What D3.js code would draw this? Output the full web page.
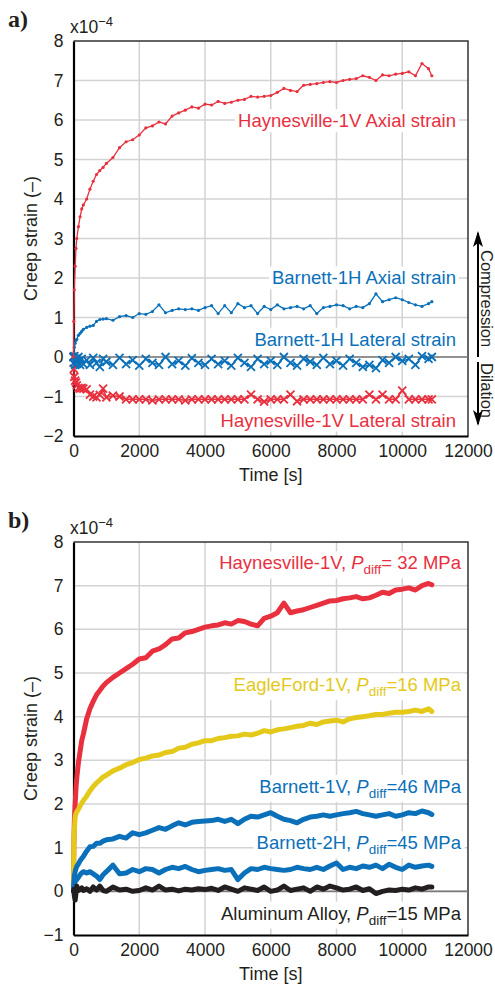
<!DOCTYPE html>
<html>
<head>
<meta charset="utf-8">
<script src="https://cdn.jsdelivr.net/npm/d3@7"></script>
<style>
  body { margin: 0; background: #fff; }
  svg text { font-family: "Liberation Sans", Arial, sans-serif; fill: #231f20; }
</style>
</head>
<body>
<div id="chart"></div>
<script>
///////////////////////////////////////////////////////////////////////////////
//////////////////// DATA /////////////////////////////////////////////////////
///////////////////////////////////////////////////////////////////////////////

// time of each sample [s], shared by every series
var timeS = [0, 10, 25, 50, 75, 100, 150, 200, 250, 300, 400, 500, 600, 700, 800, 900,
  1000, 1200, 1400, 1600, 1800, 2000, 2200, 2400, 2600, 2800,
  3000, 3200, 3400, 3600, 3800, 4000, 4200, 4400, 4600, 4800,
  5000, 5200, 5400, 5600, 5800, 6000, 6200, 6400, 6600, 6800,
  7000, 7200, 7400, 7600, 7800, 8000, 8200, 8400, 8600, 8800,
  9000, 9200, 9400, 9600, 9800, 10000, 10200, 10400, 10600, 10800, 10900];

// panel a) creep strain, x1e-4
var haynAxialA = [0, 0.9, 1.7, 2.3, 2.75, 3.0, 3.3, 3.55, 3.75, 3.85, 4.0, 4.25, 4.45, 4.62, 4.72, 4.8,
  4.9, 5.05, 5.3, 5.45, 5.5, 5.62, 5.8, 5.85, 5.95, 5.9,
  6.1, 6.18, 6.25, 6.33, 6.3, 6.4, 6.38, 6.47, 6.42, 6.45,
  6.5, 6.52, 6.6, 6.58, 6.6, 6.62, 6.7, 6.8, 6.75, 6.72,
  6.88, 6.9, 6.92, 6.95, 6.97, 6.95, 7.0, 7.03, 7.05, 7.12,
  7.08, 7.0, 7.14, 7.12, 7.16, 7.18, 7.22, 7.12, 7.43, 7.3, 7.12];
var haynLateralA = [0, -0.3, -0.5, -0.6, -0.65, -0.72, -0.78, -0.8, -0.78, -0.8, -0.82, -0.95, -1.0, -1.02, -0.96, -0.8,
  -1.02, -0.98, -1.0, -1.07, -1.07, -1.07, -1.07, -1.1, -1.07, -1.07,
  -1.07, -1.07, -1.1, -1.07, -1.07, -1.07, -1.07, -1.07, -1.07, -1.07,
  -1.07, -1.07, -0.95, -1.07, -1.13, -1.07, -1.07, -1.07, -0.95, -1.12,
  -1.07, -1.07, -1.07, -1.07, -1.07, -1.07, -1.07, -1.07, -1.07, -1.07,
  -0.95, -1.07, -0.95, -1.07, -1.07, -0.85, -1.07, -1.07, -1.07, -1.07, -1.07];
var barnAxialA = [0, 0.1, 0.25, 0.35, 0.42, 0.45, 0.55, 0.6, 0.65, 0.7, 0.75, 0.78, 0.8, 0.9, 0.95, 0.96,
  0.97, 0.93, 1.02, 1.05, 1.0, 1.1, 1.08, 1.15, 1.32, 1.12,
  1.18, 1.22, 1.2, 1.22, 1.18, 1.25, 1.3, 1.1, 1.3, 1.12,
  1.35, 1.25, 1.3, 1.1, 1.28, 1.2, 1.32, 1.22, 1.25, 1.28,
  1.22, 1.3, 1.1, 1.25, 1.28, 1.32, 1.3, 1.22, 1.28, 1.25,
  1.35, 1.6, 1.4, 1.45, 1.5, 1.45, 1.38, 1.32, 1.28, 1.35, 1.4];
var barnLateralA = [0, -0.15, 0.02, -0.2, -0.05, -0.15, 0.0, -0.2, -0.05, -0.18, -0.08, -0.2, -0.02, -0.15, -0.25, -0.05,
  -0.12, -0.2, -0.02, -0.18, -0.08, -0.22, -0.05, -0.15, -0.2, 0.0,
  -0.18, -0.1, -0.22, -0.03, -0.15, -0.2, -0.05, -0.18, -0.1, -0.22,
  -0.02, -0.15, -0.25, -0.05, -0.18, -0.1, -0.2, 0.0, -0.15, -0.22,
  -0.05, -0.12, -0.2, -0.02, -0.18, -0.1, -0.22, -0.05, -0.15, -0.25,
  -0.2, -0.28, -0.08, -0.15, 0.0, -0.1, -0.05, -0.2, 0.02, -0.05, 0.0];

// panel b) creep strain, x1e-4
var haynB = [0, 1.0, 1.6, 2.0, 2.35, 2.6, 2.95, 3.2, 3.45, 3.6, 3.95, 4.18, 4.35, 4.5, 4.6, 4.7,
  4.78, 4.9, 5.0, 5.1, 5.2, 5.32, 5.35, 5.5, 5.55, 5.65,
  5.78, 5.8, 5.92, 5.95, 6.0, 6.05, 6.08, 6.1, 6.15, 6.12,
  6.2, 6.18, 6.12, 6.08, 6.25, 6.3, 6.38, 6.6, 6.38, 6.42,
  6.45, 6.5, 6.55, 6.6, 6.65, 6.66, 6.7, 6.72, 6.75, 6.7,
  6.72, 6.78, 6.85, 6.82, 6.9, 6.92, 6.95, 6.9, 7.0, 7.05, 7.02];
var eagleB = [0, 1.0, 1.4, 1.7, 1.78, 1.82, 1.88, 1.95, 2.02, 2.08, 2.18, 2.3, 2.4, 2.48, 2.55, 2.62,
  2.66, 2.76, 2.82, 2.9, 2.95, 3.02, 3.05, 3.1, 3.12, 3.18,
  3.2, 3.28, 3.3, 3.37, 3.4, 3.45, 3.45, 3.5, 3.52, 3.55,
  3.56, 3.6, 3.58, 3.62, 3.68, 3.65, 3.7, 3.72, 3.75, 3.78,
  3.8, 3.85, 3.82, 3.88, 3.9, 3.92, 3.88, 3.95, 3.98, 4.0,
  4.02, 4.05, 4.05, 4.08, 4.1, 4.1, 4.12, 4.15, 4.12, 4.18, 4.12];
var barn1VB = [0, 0.2, 0.35, 0.45, 0.52, 0.57, 0.63, 0.7, 0.75, 0.8, 0.92, 1.02, 1.03, 1.1, 1.1, 1.15,
  1.18, 1.2, 1.26, 1.22, 1.34, 1.3, 1.34, 1.4, 1.46, 1.42,
  1.5, 1.57, 1.52, 1.58, 1.6, 1.61, 1.62, 1.65, 1.6, 1.65,
  1.55, 1.65, 1.72, 1.7, 1.75, 1.8, 1.72, 1.65, 1.62, 1.57,
  1.65, 1.7, 1.72, 1.75, 1.72, 1.75, 1.78, 1.8, 1.83, 1.78,
  1.75, 1.72, 1.75, 1.78, 1.72, 1.75, 1.8, 1.78, 1.84, 1.8, 1.76];
var barn2HB = [0, 0.1, 0.18, 0.22, 0.25, 0.27, 0.32, 0.38, 0.42, 0.45, 0.42, 0.45, 0.4, 0.35, 0.27, 0.38,
  0.45, 0.6, 0.4, 0.42, 0.5, 0.45, 0.52, 0.5, 0.42, 0.5,
  0.55, 0.52, 0.57, 0.5, 0.45, 0.48, 0.5, 0.52, 0.48, 0.5,
  0.27, 0.42, 0.52, 0.5, 0.55, 0.52, 0.5, 0.48, 0.5, 0.55,
  0.52, 0.5, 0.55, 0.5, 0.58, 0.65, 0.5, 0.55, 0.52, 0.58,
  0.55, 0.6, 0.52, 0.62, 0.55, 0.5, 0.6, 0.55, 0.58, 0.6, 0.57];
var aluB = [0, 0.05, -0.1, -0.2, -0.05, 0.12, 0.02, 0.05, 0.08, 0.02, 0.06, 0.0, 0.1, 0.03, 0.12, 0.02,
  0.0, 0.1, 0.03, 0.05, 0.0, 0.02, 0.08, 0.03, 0.12, 0.03,
  0.05, 0.01, 0.05, 0.03, 0.06, 0.04, 0.07, 0.02, 0.1, 0.05,
  0.0, 0.08, 0.05, 0.02, 0.1, 0.0, 0.03, 0.12, 0.02, 0.05,
  0.08, 0.0, 0.1, 0.05, 0.12, 0.08, 0.03, 0.05, 0.1, 0.02,
  0.06, -0.05, 0.0, 0.03, 0.02, 0.05, 0.03, 0.08, 0.05, 0.1, 0.1];

// ticks
var xTicks  = [0, 2000, 4000, 6000, 8000, 10000, 12000];
var yTicksA = [-2, -1, 0, 1, 2, 3, 4, 5, 6, 7, 8];
var yTicksB = [-1, 0, 1, 2, 3, 4, 5, 6, 7, 8];

// labels
var labelsA = ["Haynesville-1V Axial strain", "Barnett-1H Axial strain",
               "Barnett-1H Lateral strain", "Haynesville-1V Lateral strain"];
var labelsB = ["Haynesville-1V, ", "EagleFord-1V, ", "Barnett-1V, ", "Barnett-2H, ", "Aluminum Alloy, "];
var pdiffB  = ["= 32 MPa", "=16 MPa", "=46 MPa", "=45 MPa", "=15 MPa"];


///////////////////////////////////////////////////////////////////////////////
//////////////////// CONFIGS //////////////////////////////////////////////////
///////////////////////////////////////////////////////////////////////////////

var RED = "#e8303f", BLUE = "#0a70b9", YELLOW = "#e4c91b", BLACK = "#231f20";

var svg = d3.select("#chart").append("svg")
    .attr("width", 495)
    .attr("height", 986);

var left = 73.5, right = 468;

var x = d3.scaleLinear().domain([0, 12000]).range([left, right]);
var yA = d3.scaleLinear().domain([-2, 8]).range([436, 41]);
var yB = d3.scaleLinear().domain([-1, 8]).range([935, 542]);

var line = function(y) {
  return d3.line()
      .x(function(d) { return x(d[0]); })
      .y(function(d) { return y(d[1]); });
};

function pairs(vals) {
  return vals.map(function(v, i) { return [timeS[i], v]; });
}

///////////////////////////////////////////////////////////////////////////////
//////////////////// AXES /////////////////////////////////////////////////////
///////////////////////////////////////////////////////////////////////////////

function drawFrame(y, yTicks, top, bottom, tag) {
  var g = svg.append("g");

  // grid
  g.selectAll(".gx").data(xTicks.slice(1, -1)).enter().append("line")
      .attr("x1", function(d) { return x(d); }).attr("x2", function(d) { return x(d); })
      .attr("y1", top).attr("y2", bottom)
      .attr("stroke", "#d3d3d3").attr("stroke-width", 1.5);
  g.selectAll(".gy").data(yTicks.slice(1, -1)).enter().append("line")
      .attr("x1", left).attr("x2", right)
      .attr("y1", function(d) { return y(d); }).attr("y2", function(d) { return y(d); })
      .attr("stroke", "#d3d3d3").attr("stroke-width", 1.5);

  // border, top/right lighter than the axes
  g.append("path")
      .attr("d", "M" + left + "," + top + "H" + right + "V" + bottom)
      .attr("fill", "none").attr("stroke", "#333").attr("stroke-width", 1.5);

  // tick labels
  var yAxis = d3.axisLeft(y).tickValues(yTicks).tickSize(0).tickPadding(10)
      .tickFormat(d3.format("d"));
  var ya = g.append("g").attr("transform", "translate(" + left + ",0)").call(yAxis);
  ya.select(".domain").attr("stroke", "#000").attr("stroke-width", 2.2);
  ya.selectAll("text").style("font-size", "17.5px").attr("font-family", null);

  var xAxis = d3.axisBottom(x).tickValues(xTicks).tickSize(0).tickPadding(9)
      .tickFormat(d3.format("d"));
  var xa = g.append("g").attr("transform", "translate(0," + bottom + ")").call(xAxis);
  xa.select(".domain").attr("stroke", "#000").attr("stroke-width", 2.2);
  xa.selectAll("text").style("font-size", "17.5px").attr("font-family", null);

  // axis titles
  g.append("text")
      .attr("x", (left + right) / 2).attr("y", bottom + 45)
      .attr("text-anchor", "middle").style("font-size", "18px")
      .text("Time [s]");
  g.append("text")
      .attr("transform", "translate(37," + ((top + bottom) / 2) + ") rotate(-90)")
      .attr("text-anchor", "middle").style("font-size", "18px")
      .text("Creep strain (\u2013)");

  // exponent
  var ex = g.append("text").attr("x", 70).attr("y", top - 8).style("font-size", "17.5px");
  ex.append("tspan").text("x10");
  ex.append("tspan").attr("dy", -7).style("font-size", "13px").text("\u22124");

  // panel tag
  g.append("text")
      .attr("x", 8).attr("y", top - 14)
      .style("font-family", "'Liberation Serif', 'DejaVu Serif', serif")
      .style("font-weight", "bold").style("font-size", "24px")
      .text(tag);

  return g;
}

// white-boxed label, right aligned
function boxLabel(g, xr, yc, color, build) {
  var t = g.append("text")
      .attr("x", xr).attr("y", yc).attr("dy", "0.35em")
      .attr("text-anchor", "end")
      .style("font-size", "18.5px")
      .style("fill", color);
  build(t);
  var b = t.node().getBBox();
  g.insert("rect", function() { return t.node(); })
      .attr("x", b.x - 3).attr("y", b.y - 1)
      .attr("width", b.width + 6).attr("height", b.height + 2)
      .attr("fill", "#fff");
}

function zeroLine(g, y) {
  g.append("line")
      .attr("x1", left).attr("x2", right)
      .attr("y1", y(0)).attr("y2", y(0))
      .attr("stroke", "#7a7a7a").attr("stroke-width", 1.6);
}

///////////////////////////////////////////////////////////////////////////////
//////////////////// PANEL a //////////////////////////////////////////////////
///////////////////////////////////////////////////////////////////////////////

var gA = drawFrame(yA, yTicksA, 41, 436, "a)");
zeroLine(gA, yA);

var labelYA = [5.98, 2.0, 0.45, -1.6];
var colorA  = [RED, BLUE, BLUE, RED];
labelsA.forEach(function(s, i) {
  boxLabel(gA, 456, yA(labelYA[i]), colorA[i], function(t) { t.text(s); });
});

var crossPath = "M-4,-4L4,4M-4,4L4,-4";

function lateral(g, vals, color) {
  var data = pairs(vals);
  g.append("path").datum(data)
      .attr("d", line(yA)).attr("fill", "none")
      .attr("stroke", color).attr("stroke-width", 1.5);
  g.selectAll(null).data(data).enter().append("path")
      .attr("transform", function(d) { return "translate(" + x(d[0]) + "," + yA(d[1]) + ")"; })
      .attr("d", crossPath)
      .attr("stroke", color).attr("stroke-width", 1.8).attr("fill", "none");
}

function axial(g, vals, color) {
  var data = pairs(vals);
  g.append("path").datum(data)
      .attr("d", line(yA)).attr("fill", "none")
      .attr("stroke", color).attr("stroke-width", 1.3);
  g.selectAll(null).data(data).enter().append("circle")
      .attr("cx", function(d) { return x(d[0]); })
      .attr("cy", function(d) { return yA(d[1]); })
      .attr("r", 1.6).attr("fill", color);
}

lateral(gA, haynLateralA, RED);
lateral(gA, barnLateralA, BLUE);
axial(gA, barnAxialA, BLUE);
axial(gA, haynAxialA, RED);

// compression / dilation arrows
var defs = svg.append("defs");
defs.append("marker")
    .attr("id", "head").attr("viewBox", "0 0 16 10")
    .attr("refX", 14).attr("refY", 5)
    .attr("markerWidth", 16).attr("markerHeight", 10)
    .attr("markerUnits", "userSpaceOnUse")
    .attr("orient", "auto")
  .append("path").attr("d", "M0,0L16,5L0,10L4,5Z").attr("fill", "#000");
svg.append("line")
    .attr("x1", 478).attr("y1", 357).attr("x2", 478).attr("y2", 233)
    .attr("stroke", "#000").attr("stroke-width", 2).attr("marker-end", "url(#head)");
svg.append("line")
    .attr("x1", 478).attr("y1", 362).attr("x2", 478).attr("y2", 424)
    .attr("stroke", "#000").attr("stroke-width", 2).attr("marker-end", "url(#head)");
svg.append("text")
    .attr("transform", "translate(481,250) rotate(90)")
    .style("font-size", "16.5px").text("Compression");
svg.append("text")
    .attr("transform", "translate(481,363) rotate(90)")
    .style("font-size", "16.5px").text("Dilation");

///////////////////////////////////////////////////////////////////////////////
//////////////////// PANEL b //////////////////////////////////////////////////
///////////////////////////////////////////////////////////////////////////////

var gB = drawFrame(yB, yTicksB, 542, 935, "b)");
zeroLine(gB, yB);

var labelYB = [7.52, 4.73, 2.4, 1.11, -0.5];
var colorB  = [RED, YELLOW, BLUE, BLUE, BLACK];
labelsB.forEach(function(s, i) {
  boxLabel(gB, 461, yB(labelYB[i]), colorB[i], function(t) {
    t.append("tspan").text(s);
    t.append("tspan").style("font-style", "italic").text("P");
    t.append("tspan").attr("dy", 5).style("font-size", "13.5px").text("diff");
    t.append("tspan").attr("dy", -5).text(pdiffB[i]);
  });
});

var seriesB = [[haynB, RED], [eagleB, YELLOW], [barn1VB, BLUE], [barn2HB, BLUE], [aluB, BLACK]];
seriesB.forEach(function(s) {
  gB.append("path").datum(pairs(s[0]))
      .attr("d", line(yB)).attr("fill", "none")
      .attr("stroke", s[1]).attr("stroke-width", 5)
      .attr("stroke-linejoin", "round").attr("stroke-linecap", "round");
});
</script>
</body>
</html>
